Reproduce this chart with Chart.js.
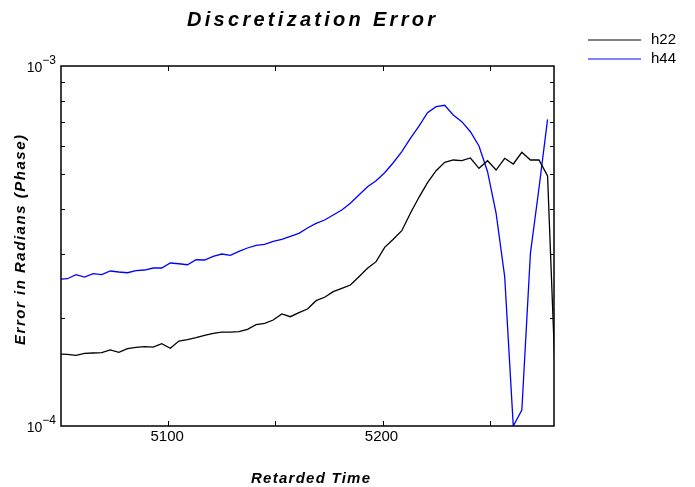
<!DOCTYPE html>
<html>
<head>
<meta charset="utf-8">
<script src="https://cdn.jsdelivr.net/npm/chart.js@4"></script>
<style>
  html, body { margin: 0; padding: 0; background: #fff; }
  #chart { display: block; }
</style>
</head>
<body>
<canvas id="chart" width="695" height="487"></canvas>
<script>
// retarded time samples
const times = [5049, 5053, 5057, 5061, 5065, 5069, 5073, 5077, 5081, 5085,
  5089, 5093, 5097, 5101, 5105, 5109, 5113, 5117, 5121, 5125,
  5129, 5133, 5137, 5141, 5145, 5149, 5153, 5157, 5161, 5165,
  5169, 5173, 5177, 5181, 5185, 5189, 5193, 5197, 5201, 5205,
  5209, 5213, 5217, 5221, 5225, 5229, 5233, 5237, 5241, 5245,
  5249, 5253, 5257, 5261, 5265, 5269, 5273, 5277, 5281];

// errors, in units of 1e-4 rad
const h22 = [1.585, 1.582, 1.572, 1.592, 1.595, 1.598, 1.626, 1.602, 1.640, 1.654,
  1.661, 1.657, 1.693, 1.644, 1.722, 1.737, 1.759, 1.786, 1.809, 1.824,
  1.824, 1.828, 1.856, 1.912, 1.929, 1.970, 2.047, 2.012, 2.064, 2.113,
  2.229, 2.278, 2.361, 2.413, 2.464, 2.598, 2.742, 2.861, 3.136, 3.301,
  3.487, 3.898, 4.318, 4.740, 5.119, 5.402, 5.482, 5.457, 5.552, 5.197,
  5.457, 5.141, 5.542, 5.343, 5.759, 5.482, 5.482, 4.948, 1.18];

const h44 = [2.555, 2.565, 2.632, 2.593, 2.649, 2.632, 2.695, 2.678, 2.665, 2.700,
  2.712, 2.747, 2.747, 2.836, 2.823, 2.805, 2.896, 2.891, 2.960, 3.004,
  2.979, 3.057, 3.122, 3.176, 3.196, 3.258, 3.301, 3.365, 3.430, 3.548,
  3.656, 3.734, 3.855, 3.981, 4.155, 4.382, 4.621, 4.802, 5.053, 5.387,
  5.780, 6.298, 6.812, 7.419, 7.707, 7.777, 7.310, 7.003, 6.568, 5.995,
  5.085, 3.898, 2.598, 1.0, 1.108, 3.018, 4.583, 7.110];

const xTicks = [5100, 5150, 5200, 5250];
const xTickLabels = [5100, 5200];
const yMinorTicks = [2e-4, 3e-4, 4e-4, 5e-4, 6e-4, 7e-4, 8e-4, 9e-4];
const yDecades = [1e-4, 1e-3];
const yDecadeExps = ['\u22124', '\u22123'];

const FONT = '"Liberation Sans", Arial, Helvetica, sans-serif';

function toPoints(vals) {
  const pts = [];
  vals.forEach((v, i) => pts.push({ x: times[i], y: v * 1e-4 }));
  return pts;
}

// draw text stretched with letter spacing to a given width
function spacedText(ctx, text, cx, baseline, targetWidth) {
  ctx.letterSpacing = '0px';
  const natural = ctx.measureText(text).width;
  const sp = targetWidth ? Math.max(0, (targetWidth - natural) / (text.length - 1)) : 0;
  ctx.letterSpacing = sp + 'px';
  ctx.textAlign = 'left';
  ctx.fillText(text, cx - (natural + sp * (text.length - 1)) / 2, baseline);
  ctx.letterSpacing = '0px';
}

const decorations = {
  id: 'decorations',
  afterDraw(chart) {
    const ctx = chart.ctx;
    const a = chart.chartArea;
    const xs = chart.scales.x;
    const ys = chart.scales.y;
    ctx.save();
    ctx.strokeStyle = '#000';
    ctx.fillStyle = '#000';

    // frame
    ctx.lineWidth = 1.5;
    ctx.strokeRect(a.left, a.top, a.right - a.left, a.bottom - a.top);

    // inward ticks
    ctx.lineWidth = 1;
    ctx.beginPath();
    xTicks.forEach(t => {
      const px = Math.round(xs.getPixelForValue(t)) + 0.5;
      ctx.moveTo(px, a.bottom); ctx.lineTo(px, a.bottom - 5);
      ctx.moveTo(px, a.top); ctx.lineTo(px, a.top + 5);
    });
    yMinorTicks.forEach(v => {
      const py = Math.round(ys.getPixelForValue(v)) + 0.5;
      ctx.moveTo(a.left, py); ctx.lineTo(a.left + 4, py);
      ctx.moveTo(a.right, py); ctx.lineTo(a.right - 4, py);
    });
    ctx.stroke();

    // x tick labels
    ctx.font = '15px ' + FONT;
    ctx.textAlign = 'center';
    ctx.textBaseline = 'alphabetic';
    xTickLabels.forEach(t => {
      ctx.fillText(String(t), xs.getPixelForValue(t) - 1, 441);
    });

    // y decade labels: 10 with superscript exponent
    yDecades.forEach((v, i) => {
      const py = ys.getPixelForValue(v);
      ctx.font = '12px ' + FONT;
      const supW = ctx.measureText(yDecadeExps[i]).width;
      ctx.textAlign = 'right';
      ctx.fillText(yDecadeExps[i], 56, py - 2.5);
      ctx.font = '14px ' + FONT;
      ctx.fillText('10', 56 - supW, py + 5.5);
    });

    // title
    ctx.font = 'italic bold 20px ' + FONT;
    spacedText(ctx, 'Discretization Error', 311, 26, 248);

    // axis titles
    ctx.font = 'italic bold 15px ' + FONT;
    spacedText(ctx, 'Retarded Time', 310.5, 482.5, 119);
    ctx.save();
    ctx.translate(25, 240);
    ctx.rotate(-Math.PI / 2);
    spacedText(ctx, 'Error in Radians (Phase)', 0, 0, 210);
    ctx.restore();

    // legend
    ctx.font = '15px ' + FONT;
    ctx.textAlign = 'left';
    chart.data.datasets.forEach((ds, i) => {
      const ly = 40 + i * 19;
      ctx.strokeStyle = ds.borderColor;
      ctx.lineWidth = 1.2;
      ctx.beginPath();
      ctx.moveTo(588, ly);
      ctx.lineTo(641, ly);
      ctx.stroke();
      ctx.fillStyle = '#000';
      ctx.fillText(ds.label, 651, ly + 4);
    });
    ctx.restore();
  }
};

new Chart(document.getElementById('chart'), {
  type: 'line',
  data: {
    datasets: [
      { label: 'h22', data: toPoints(h22), borderColor: '#000000', backgroundColor: '#000000' },
      { label: 'h44', data: toPoints(h44), borderColor: '#0000ff', backgroundColor: '#0000ff' }
    ]
  },
  options: {
    responsive: false,
    animation: false,
    devicePixelRatio: 1,
    layout: { padding: { left: 61, top: 66, right: 141, bottom: 61 } },
    elements: {
      point: { radius: 0 },
      line: { tension: 0, borderWidth: 1.3, fill: false }
    },
    plugins: {
      legend: { display: false },
      tooltip: { enabled: false },
      title: { display: false }
    },
    scales: {
      x: { type: 'linear', min: 5050, max: 5280, display: false },
      y: { type: 'logarithmic', min: 1e-4, max: 1e-3, display: false }
    }
  },
  plugins: [decorations]
});
</script>
</body>
</html>
